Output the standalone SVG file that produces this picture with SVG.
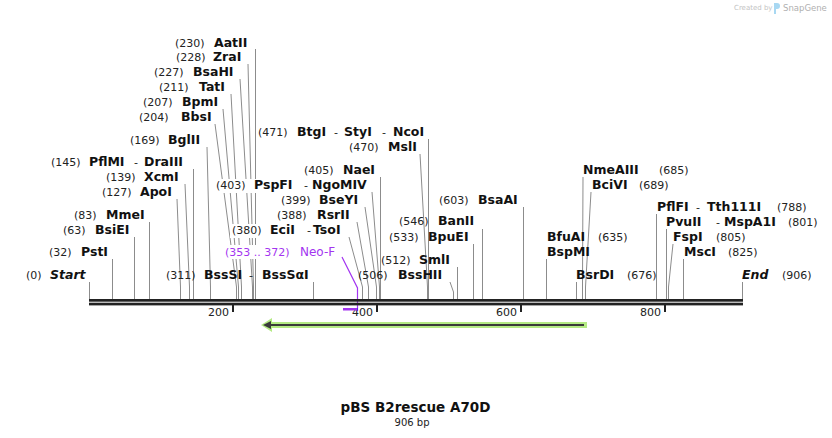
<svg xmlns="http://www.w3.org/2000/svg" width="832" height="438" viewBox="0 0 832 438">
<style>
.n{font-family:"DejaVu Sans",Verdana,sans-serif;font-size:11px;fill:#222}
.e{font-family:"DejaVu Sans",Verdana,sans-serif;font-size:12.5px;font-weight:bold;fill:#111}
.i{font-style:italic}
.p{font-family:"DejaVu Sans",Verdana,sans-serif;font-size:12px;fill:#a335f0}
.ld{stroke:#8c8c8c;stroke-width:1;fill:none}
.bg{fill:#fff}
.tk{font-family:"DejaVu Sans",Verdana,sans-serif;font-size:11px;fill:#222;text-anchor:end}
</style>
<rect width="832" height="438" fill="#fff"/>

<g id="watermark">
<text x="734" y="10" style="font-family:'DejaVu Sans',sans-serif;font-size:7px;fill:#c4c4c4">Created by</text>
<path d="M774 3 h3 a3 3 0 0 1 0 6 h-1 v5 h-2 z" fill="#a8d8f2"/>
<text x="783" y="11" style="font-family:'DejaVu Sans',sans-serif;font-size:8.5px;fill:#b0b0b0">SnapGene</text>
</g>

<g id="connectors">
<polyline class="ld" points="89.5,282 89.5,299"/>
<polyline class="ld" points="112.5,259 112.5,299"/>
<polyline class="ld" points="134.5,237 134.5,299"/>
<polyline class="ld" points="149.5,222 149.5,299"/>
<polyline class="ld" points="177,199 180.5,287 180.5,299"/>
<polyline class="ld" points="185,184 189.5,287 189.5,299"/>
<polyline class="ld" points="193.5,169 193.5,299"/>
<polyline class="ld" points="207,147 210.5,287 210.5,299"/>
<polyline class="ld" points="215,124 236.5,287 236.5,299"/>
<polyline class="ld" points="223,109 238.5,287 238.5,299"/>
<polyline class="ld" points="231,94 241.5,287 241.5,299"/>
<polyline class="ld" points="240,79 252.5,287 252.5,299"/>
<polyline class="ld" points="248,64 253.5,287 253.5,299"/>
<polyline class="ld" points="255.5,49 255.5,299"/>
<polyline class="ld" points="313.5,282 313.5,299"/>
<polyline class="ld" points="349,237 362.5,287 362.5,299"/>
<polyline class="ld" points="357,222 368.5,287 368.5,299"/>
<polyline class="ld" points="365,207 376.5,287 376.5,299"/>
<polyline class="ld" points="372,192 379.5,287 379.5,299"/>
<polyline class="ld" points="380.5,177 380.5,299"/>
<polyline class="ld" points="420,154 427.5,287 427.5,299"/>
<polyline class="ld" points="428.5,139 428.5,299"/>
<polyline class="ld" points="450,282 453.5,292 453.5,299"/>
<polyline class="ld" points="457.5,267 457.5,299"/>
<polyline class="ld" points="473.5,244 473.5,299"/>
<polyline class="ld" points="482.5,229 482.5,299"/>
<polyline class="ld" points="523.5,207 523.5,299"/>
<polyline class="ld" points="546.5,259 546.5,299"/>
<polyline class="ld" points="576.5,282 576.5,299"/>
<polyline class="ld" points="583,177 582.5,287 582.5,299"/>
<polyline class="ld" points="591,192 585.5,287 585.5,299"/>
<polyline class="ld" points="656.5,214 656.5,299"/>
<polyline class="ld" points="666.5,229 666.5,299"/>
<polyline class="ld" points="673,244 668.5,287 668.5,299"/>
<polyline class="ld" points="683.5,259 683.5,299"/>
<polyline class="ld" points="742.5,282 742.5,299"/>
<polyline points="342,257 357.5,288 357.5,311" fill="none" stroke="#a335f0" stroke-width="1.2"/>
</g>

<g id="axis">
<rect x="89" y="299" width="654" height="2.7" fill="#222"/>
<rect x="89" y="302.7" width="654" height="2.7" fill="#222"/>
<rect x="232" y="305" width="2" height="7" fill="#222"/>
<rect x="376" y="305" width="2" height="7" fill="#222"/>
<rect x="520" y="305" width="2" height="7" fill="#222"/>
<rect x="664" y="305" width="2" height="7" fill="#222"/>
<text class="tk" x="229" y="316">200</text>
<text class="tk" x="373" y="316">400</text>
<text class="tk" x="517" y="316">600</text>
<text class="tk" x="661" y="316">800</text>
</g>

<g id="feature">
<polygon points="261,325 272,318 272,322 587,322 587,328 272,328 272,332" fill="#b4ea84"/>
<line x1="268" y1="325" x2="584" y2="325" stroke="#3a3a3a" stroke-width="2"/>
<polygon points="263,325 271,321 271,329" fill="#3a3a3a"/>
</g>

<g id="primer-NeoF">
<rect x="343" y="308" width="14" height="2.5" fill="#a335f0"/>
<rect class="bg" x="223" y="245" width="116" height="14"/>
<text class="p" x="225" y="256" style="font-size:11px">(353 .. 372)</text>
<text class="p" x="300" y="256">Neo-F</text>
</g>

<g id="start"><text class="n" x="26" y="279">(0)</text><text class="e i" x="50" y="279">Start</text></g>
<g id="PstI"><text class="n" x="49" y="256">(32)</text><text class="e" x="81" y="256">PstI</text></g>
<g id="BsiEI"><text class="n" x="63" y="234">(63)</text><text class="e" x="95" y="234">BsiEI</text></g>
<g id="MmeI"><text class="n" x="74" y="219">(83)</text><text class="e" x="106" y="219">MmeI</text></g>
<g id="ApoI"><text class="n" x="102" y="196">(127)</text><text class="e" x="140" y="196">ApoI</text></g>
<g id="XcmI"><text class="n" x="106" y="181">(139)</text><text class="e" x="144" y="181">XcmI</text></g>
<g id="PflMI"><text class="n" x="51" y="166">(145)</text><text class="e" x="89" y="166">PflMI</text><text class="n" x="134" y="166">-</text><text class="e" x="144" y="166">DraIII</text></g>
<g id="BglII"><text class="n" x="130" y="144">(169)</text><text class="e" x="168" y="144">BglII</text></g>
<g id="BbsI"><text class="n" x="139" y="121">(204)</text><text class="e" x="181" y="121">BbsI</text></g>
<g id="BpmI"><text class="n" x="143" y="106">(207)</text><text class="e" x="182" y="106">BpmI</text></g>
<g id="TatI"><text class="n" x="159" y="91">(211)</text><text class="e" x="199" y="91">TatI</text></g>
<g id="BsaHI"><text class="n" x="154" y="76">(227)</text><text class="e" x="193" y="76">BsaHI</text></g>
<g id="ZraI"><text class="n" x="176" y="61">(228)</text><text class="e" x="213" y="61">ZraI</text></g>
<g id="AatII"><text class="n" x="175" y="47">(230)</text><text class="e" x="214" y="47">AatII</text></g>
<g id="BssSI"><text class="n" x="166" y="279">(311)</text><text class="e" x="204" y="279">BssSI</text><text class="n" x="249" y="279">-</text><text class="e" x="262" y="279">BssSαI</text></g>
<g id="EciI"><rect class="bg" x="230" y="224" width="116" height="14"/><text class="n" x="232" y="234">(380)</text><text class="e" x="270" y="234">EciI</text><text class="n" x="307" y="234">-</text><text class="e" x="313" y="234">TsoI</text></g>
<g id="RsrII"><text class="n" x="277" y="219">(388)</text><text class="e" x="317" y="219">RsrII</text></g>
<g id="BseYI"><text class="n" x="281" y="204">(399)</text><text class="e" x="319" y="204">BseYI</text></g>
<g id="PspFI"><rect class="bg" x="214" y="179" width="154" height="14"/><text class="n" x="216" y="189">(403)</text><text class="e" x="254" y="189">PspFI</text><text class="n" x="304" y="189">-</text><text class="e" x="312" y="189">NgoMIV</text></g>
<g id="NaeI"><text class="n" x="304" y="174">(405)</text><text class="e" x="343" y="174">NaeI</text></g>
<g id="MslI"><text class="n" x="349" y="151">(470)</text><text class="e" x="388" y="151">MslI</text></g>
<g id="BtgI"><text class="n" x="258" y="136">(471)</text><text class="e" x="297" y="136">BtgI</text><text class="n" x="334" y="136">-</text><text class="e" x="344" y="136">StyI</text><text class="n" x="382" y="136">-</text><text class="e" x="393" y="136">NcoI</text></g>
<g id="BssHII"><text class="n" x="358" y="279">(506)</text><text class="e" x="398" y="279">BssHII</text></g>
<g id="SmlI"><text class="n" x="381" y="264">(512)</text><text class="e" x="419" y="264">SmlI</text></g>
<g id="BpuEI"><text class="n" x="389" y="241">(533)</text><text class="e" x="428" y="241">BpuEI</text></g>
<g id="BanII"><text class="n" x="399" y="225">(546)</text><text class="e" x="438" y="225">BanII</text></g>
<g id="BsaAI"><text class="n" x="439" y="204">(603)</text><text class="e" x="478" y="204">BsaAI</text></g>
<g id="BfuAI"><text class="e" x="547" y="241">BfuAI</text><text class="n" x="598" y="241">(635)</text></g>
<g id="BspMI"><text class="e" x="547" y="256">BspMI</text></g>
<g id="BsrDI"><text class="e" x="576" y="279">BsrDI</text><text class="n" x="627" y="279">(676)</text></g>
<g id="NmeAIII"><text class="e" x="583" y="174">NmeAIII</text><text class="n" x="659" y="174">(685)</text></g>
<g id="BciVI"><text class="e" x="592" y="189">BciVI</text><text class="n" x="639" y="189">(689)</text></g>
<g id="PflFI"><text class="e" x="657" y="211">PflFI</text><text class="n" x="696" y="211">-</text><text class="e" x="707" y="211">Tth111I</text><text class="n" x="777" y="211">(788)</text></g>
<g id="PvuII"><text class="e" x="666" y="226">PvuII</text><text class="n" x="716" y="226">-</text><text class="e" x="724" y="226">MspA1I</text><text class="n" x="788" y="226">(801)</text></g>
<g id="FspI"><text class="e" x="673" y="241">FspI</text><text class="n" x="716" y="241">(805)</text></g>
<g id="MscI"><text class="e" x="684" y="256">MscI</text><text class="n" x="728" y="256">(825)</text></g>
<g id="end"><text class="e i" x="742" y="279">End</text><text class="n" x="782" y="279">(906)</text></g>

<g id="title">
<text x="415.5" y="412" text-anchor="middle" style="font-family:'DejaVu Sans',Verdana,sans-serif;font-size:13.5px;font-weight:bold;fill:#111">pBS B2rescue A70D</text>
<text x="412" y="426" text-anchor="middle" style="font-family:'DejaVu Sans',Verdana,sans-serif;font-size:10px;fill:#222">906 bp</text>
</g>
</svg>
